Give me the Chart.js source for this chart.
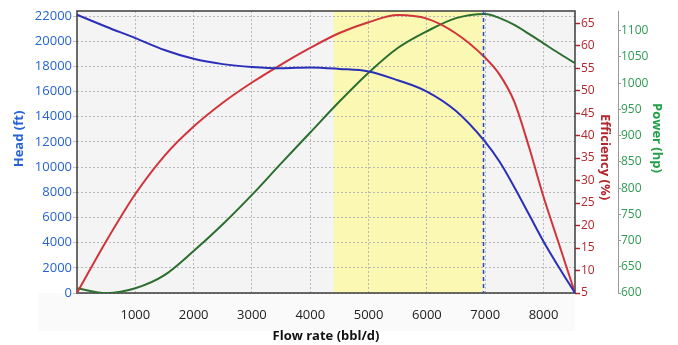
<!DOCTYPE html>
<html lang="en">
<head>
  <meta charset="UTF-8">
  <title>Pump performance</title>
  <script src="https://cdn.jsdelivr.net/npm/chart.js@4.4.1/dist/chart.umd.min.js"></script>
  <style>
    body { margin: 0; background: #fff; }
    .wrap { width: 678px; height: 345px; position: relative; }
  </style>
</head>
<body>
  <div class="wrap"><canvas id="pump"></canvas></div>

<script>
  // flow rate (bbl/d) and the three pump curves read at each rate
  const flowRate = [0, 500, 1000, 1500, 2000, 2500, 3000, 3500, 4000, 4500, 5000, 5500, 6000, 6500, 7000, 7250, 7500, 7750, 8000, 8250, 8540];
  const headFt = [22100, 21150, 20250, 19300, 18600, 18180, 17950, 17850, 17920, 17800, 17600, 16900, 16000, 14450, 12000, 10400, 8400, 6250, 4100, 2150, 0];
  const efficiencyPct = [5, 16.5, 27, 35.5, 42, 47.3, 51.8, 55.8, 59.5, 62.8, 65.2, 66.8, 66, 62.7, 57.3, 53.5, 47.5, 37.5, 26.4, 16.5, 5];
  const powerHp = [609, 599.5, 609, 634, 680, 731, 787, 847, 906, 965, 1020, 1067, 1099, 1124, 1132, 1124, 1111, 1094, 1076, 1058, 1038];

  // axis tick labels
  const flowTicks = [1000, 2000, 3000, 4000, 5000, 6000, 7000, 8000];
  const headTicks = [0, 2000, 4000, 6000, 8000, 10000, 12000, 14000, 16000, 18000, 20000, 22000];
  const effTicks = [5, 10, 15, 20, 25, 30, 35, 40, 45, 50, 55, 60, 65];
  const powerTicks = [600, 650, 700, 750, 800, 850, 900, 950, 1000, 1050, 1100];

  // recommended operating range and best efficiency point
  const rangeStart = 4400;
  const rangeEnd = 6960;
  const bepFlow = 6960;

  const FONT = '"Open Sans", "Liberation Sans", sans-serif';
  const BLUE = '#2563d8';
  const RED = '#b3262c';
  const GREEN = '#2f9a52';

  function pts(ys) {
    return flowRate.map((x, i) => ({ x: x, y: ys[i] }));
  }

  function useTicks(values) {
    return function (scale) {
      scale.ticks = values.map(v => ({ value: v }));
    };
  }

  const plain = v => String(v);

  const backdrop = {
    id: 'backdrop',
    beforeDraw(chart) {
      const { ctx, chartArea: a, scales } = chart;
      ctx.save();
      ctx.fillStyle = '#fafafa';
      ctx.fillRect(38, a.bottom, a.right - 38, 38);
      ctx.fillStyle = '#f4f4f4';
      ctx.fillRect(a.left, a.top, a.right - a.left, a.bottom - a.top);
      const x1 = scales.x.getPixelForValue(rangeStart);
      const x2 = scales.x.getPixelForValue(rangeEnd);
      ctx.fillStyle = '#faf8b2';
      ctx.fillRect(x1, a.top, x2 - x1, a.bottom - a.top);
      ctx.restore();
    },
    beforeDatasetsDraw(chart) {
      const { ctx, chartArea: a } = chart;
      ctx.save();
      ctx.strokeStyle = '#3c3c3c';
      ctx.lineWidth = 1.5;
      ctx.strokeRect(a.left, a.top, a.right - a.left, a.bottom - a.top);
      ctx.restore();
    },
    afterDatasetsDraw(chart) {
      const { ctx, chartArea: a, scales } = chart;
      const x = Math.round(scales.x.getPixelForValue(bepFlow)) + 0.5;
      ctx.save();
      ctx.strokeStyle = '#3344cc';
      ctx.lineWidth = 1.5;
      ctx.setLineDash([4, 3]);
      ctx.beginPath();
      ctx.moveTo(x, a.top);
      ctx.lineTo(x, a.bottom);
      ctx.stroke();
      ctx.restore();
    },
    afterDraw(chart) {
      const ctx = chart.ctx;
      const titles = [
        ['Head (ft)', BLUE, 19, 139, -1],
        ['Efficiency (%)', RED, 605, 157, 1],
        ['Power (hp)', '#22a048', 657, 138, 1]
      ];
      ctx.save();
      ctx.font = 'bold 13px ' + FONT;
      ctx.textAlign = 'center';
      ctx.textBaseline = 'middle';
      titles.forEach(([text, color, x, y, dir]) => {
        ctx.save();
        ctx.translate(x, y);
        ctx.rotate(dir * Math.PI / 2);
        ctx.fillStyle = color;
        ctx.fillText(text, 0, 0);
        ctx.restore();
      });
      ctx.restore();
    }
  };

  const line = (label, ys, color, axis) => ({
    label: label,
    data: pts(ys),
    yAxisID: axis,
    borderColor: color,
    borderWidth: 2,
    pointRadius: 0,
    fill: false,
    cubicInterpolationMode: 'monotone'
  });

  new Chart(document.getElementById('pump'), {
    type: 'line',
    data: {
      datasets: [
        line('Head', headFt, '#2a2fb8', 'head'),
        line('Efficiency', efficiencyPct, '#d0343a', 'eff'),
        line('Power', powerHp, '#2b6e2e', 'power')
      ]
    },
    options: {
      responsive: true,
      maintainAspectRatio: false,
      animation: false,
      layout: { padding: { top: 11, left: 0, right: 0, bottom: 0 } },
      plugins: { legend: { display: false }, tooltip: { enabled: false } },
      scales: {
        x: {
          type: 'linear',
          min: 0,
          max: 8540,
          afterBuildTicks: useTicks(flowTicks),
          afterFit: s => { s.height = 52; },
          ticks: { color: '#222', font: { family: FONT, size: 13 }, padding: 14, maxRotation: 0, autoSkip: false, callback: plain },
          grid: { color: '#b9b9b9', drawTicks: false },
          border: { display: false, dash: [2, 2] },
          title: { display: true, text: 'Flow rate (bbl/d)', color: '#111', font: { family: FONT, size: 13, weight: 'bold' }, padding: { top: 0, bottom: 1 } }
        },
        head: {
          position: 'left',
          min: 0,
          max: 22400,
          afterBuildTicks: useTicks(headTicks),
          afterFit: s => { s.width = 77; },
          ticks: { color: BLUE, font: { family: FONT, size: 13 }, padding: 1, autoSkip: false, callback: plain },
          grid: { color: '#b9b9b9', tickLength: 4, tickColor: '#c4c4c4' },
          border: { display: false, dash: [2, 2] }
        },
        eff: {
          position: 'right',
          min: 5,
          max: 67.7,
          afterBuildTicks: useTicks(effTicks),
          afterFit: s => { s.width = 43; },
          ticks: { color: RED, font: { family: FONT, size: 12 }, padding: 1, autoSkip: false, callback: plain },
          grid: { drawOnChartArea: false, tickLength: 5, tickColor: RED, tickWidth: 1.5 },
          border: { display: false }
        },
        power: {
          position: 'right',
          min: 600,
          max: 1137.6,
          afterBuildTicks: useTicks(powerTicks),
          afterFit: s => { s.width = 60; },
          ticks: { color: GREEN, font: { family: FONT, size: 12 }, padding: 0, autoSkip: false, callback: plain },
          grid: { drawOnChartArea: false, tickLength: 3, tickColor: '#999' },
          border: { display: true, color: '#999', width: 1 }
        }
      }
    },
    plugins: [backdrop]
  });
</script>
</body>
</html>
